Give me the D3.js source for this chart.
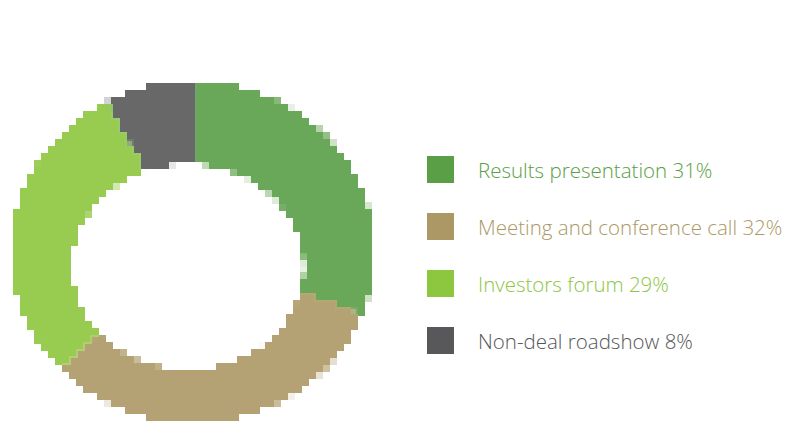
<!DOCTYPE html>
<html>
<head>
<meta charset="utf-8">
<script src="https://cdn.jsdelivr.net/npm/d3@7"></script>
<style>
  body { margin: 0; background: #fff; }
  svg { display: block; }
</style>
</head>
<body>
<div id="chart"></div>
<script>
const categories = ['Results presentation', 'Meeting and conference call', 'Investors forum', 'Non-deal roadshow'];
const shares = [31, 32, 29, 8];
const colors = ['#5a9e45', '#ac9865', '#8dc63f', '#58585a'];

const svgWidth = 786;
const svgHeight = 431;

const svg = d3.select('#chart')
    .append('svg')
    .attr('width', svgWidth)
    .attr('height', svgHeight);

const data = categories.map((c, i) => ({ name: c, value: shares[i], color: colors[i] }));

// blocky "pixel" look like the original picture
const defs = svg.append('defs');
const pix = defs.append('filter').attr('id', 'pixelate')
    .attr('filterUnits', 'userSpaceOnUse')
    .attr('x', 0).attr('y', 0).attr('width', svgWidth).attr('height', svgHeight);
pix.append('feFlood').attr('x', 3).attr('y', 3).attr('width', 1).attr('height', 1);
pix.append('feComposite').attr('width', 7).attr('height', 7);
pix.append('feTile').attr('result', 'a');
pix.append('feComposite').attr('in', 'SourceGraphic').attr('in2', 'a').attr('operator', 'in');
pix.append('feMorphology').attr('operator', 'dilate').attr('radius', 3.5);

// ring is slightly squashed, and its hole sits a bit lower than the outer rim
const cx = 193, cy = 252, outerR = 170, stretch = 181 / 170;
const mask = defs.append('mask').attr('id', 'hole')
    .attr('maskUnits', 'userSpaceOnUse')
    .attr('x', 0).attr('y', 0).attr('width', svgWidth).attr('height', svgHeight);
mask.append('rect').attr('width', svgWidth).attr('height', svgHeight).attr('fill', '#fff');
mask.append('ellipse').attr('cx', 188).attr('cy', 267).attr('rx', 117).attr('ry', 104).attr('fill', '#000');

const pie = d3.pie().value(d => d.value).sort(null);
const arc = d3.arc().innerRadius(0).outerRadius(outerR);

const ring = svg.append('g')
    .attr('filter', 'url(#pixelate)')
    .append('g')
    .attr('mask', 'url(#hole)')
    .append('g')
    .attr('transform', `translate(${cx}, ${cy}) scale(${stretch}, 1)`);

ring.selectAll('path')
    .data(pie(data))
    .enter()
    .append('path')
    .attr('d', arc)
    .attr('fill', d => d.data.color)
    .attr('fill-opacity', 0.9);

// legend
const legend = svg.append('g').attr('transform', 'translate(427, 0)');
const y = d3.scalePoint().domain(categories).range([178, 349]);

const items = legend.selectAll('.item')
    .data(data)
    .enter()
    .append('g')
    .attr('class', 'item');

items.append('rect')
    .attr('x', 0)
    .attr('y', d => y(d.name) - 22)
    .attr('width', 27)
    .attr('height', 27)
    .attr('fill', d => d.color);

items.append('text')
    .attr('x', 51)
    .attr('y', d => y(d.name))
    .attr('fill', d => d.color)
    .style('font-family', '"Open Sans", sans-serif')
    .style('font-weight', 300)
    .style('font-size', '20.5px')
    .text(d => `${d.name} ${d.value}%`);
</script>
</body>
</html>
